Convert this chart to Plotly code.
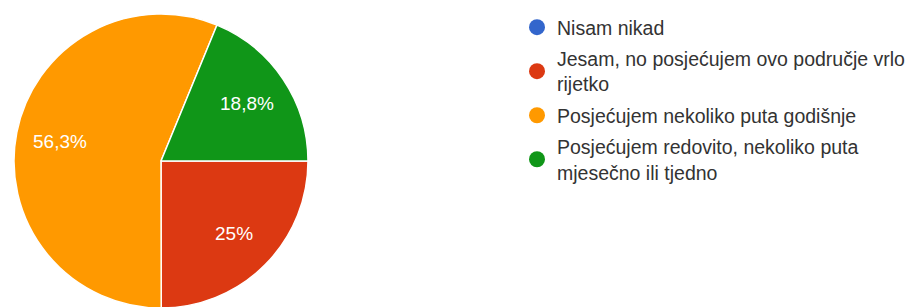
import math
import plotly.graph_objects as go

categories = [
    "Nisam nikad",
    "Jesam, no posjećujem ovo područje vrlo<br>rijetko",
    "Posjećujem nekoliko puta godišnje",
    "Posjećujem redovito, nekoliko puta<br>mjesečno ili tjedno",
]
values = [0, 25, 56.3, 18.8]
slice_text = ["", "25%", "56,3%", "18,8%"]
colors = ["#3366cc", "#dc3912", "#ff9900", "#109618"]

W, H = 916, 307
FONT = "Liberation Sans, Arial, sans-serif"
OFF = 8  # default page body margin offset

# pie geometry in figure pixels
CX, CY, R = 161 - OFF, 161 - OFF, 147
START_DEG = 90  # first slice starts at 3 o'clock, clockwise

fig = go.Figure()
fig.add_trace(go.Pie(
    labels=categories,
    values=values,
    textinfo="none",
    marker=dict(colors=colors, line=dict(color="white", width=1.5)),
    sort=False,
    direction="clockwise",
    rotation=START_DEG,
    showlegend=False,
    hoverinfo="label+percent",
    domain=dict(x=[(CX - R) / W, (CX + R) / W],
                y=[1 - (CY + R) / H, 1 - (CY - R) / H]),
))

# slice labels placed along each slice's mid angle
total = sum(values)
cum = 0.0
for v, t in zip(values, slice_text):
    if v > 0 and t:
        mid = START_DEG + (cum + v / 2) / total * 360
        a = math.radians(mid)
        x = CX + 0.7 * R * math.sin(a)
        y = CY - 0.7 * R * math.cos(a)
        fig.add_annotation(
            x=x / W, y=1 - y / H, xref="paper", yref="paper",
            text=t, showarrow=False, xanchor="center", yanchor="middle",
            font=dict(color="white", size=19, family=FONT),
        )
    cum += v

for i, (cat, col) in enumerate(zip(categories, colors)):
    fig.add_trace(go.Scatter(
        x=[None], y=[None], mode="markers", name=cat,
        legendgroup=f"g{i}",
        marker=dict(color=col, size=16, symbol="circle"),
        showlegend=True, hoverinfo="skip",
    ))

fig.update_layout(
    width=W, height=H,
    margin=dict(l=0, r=0, t=0, b=0),
    paper_bgcolor="white", plot_bgcolor="white",
    xaxis=dict(visible=False), yaxis=dict(visible=False),
    font=dict(family=FONT, size=19.5, color="#333333"),
    legend=dict(
        x=509 / W, xanchor="left", y=1, yanchor="top",
        tracegroupgap=3, itemclick=False, itemdoubleclick=False,
        bgcolor="rgba(0,0,0,0)",
    ),
)

fig.write_html("out.html")
